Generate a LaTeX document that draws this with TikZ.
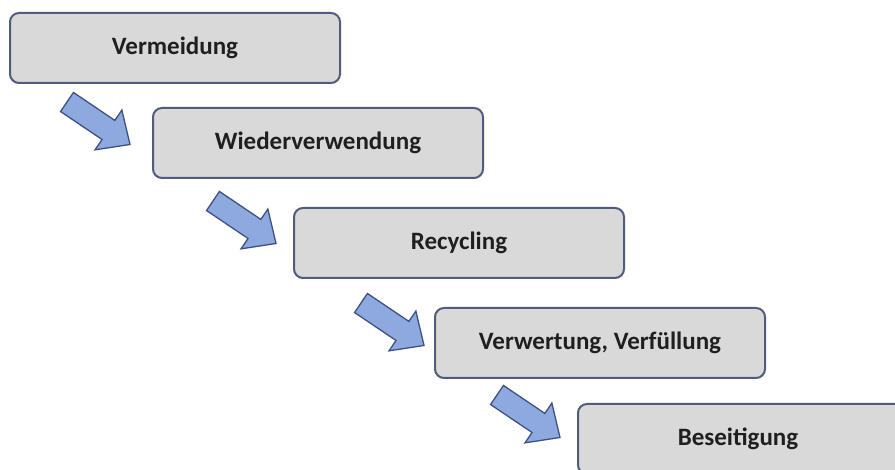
\documentclass[tikz,border=0pt]{standalone}
\usepackage{fontspec}
\setmainfont{Carlito}
\begin{document}
\begin{tikzpicture}[x=1pt,y=1pt,
  stagebox/.style={draw=boxline, line width=2pt, fill=boxfill, rounded corners=9pt,
    minimum width=330pt, minimum height=70pt, anchor=north west, inner sep=0pt,
    font=\fontsize{25}{28}\selectfont\bfseries, text=black!88},
  blockarrow/.style={draw=arrline, line width=1.3pt, fill=arrfill, line join=miter}]
\definecolor{boxline}{HTML}{4E5D7E}
\definecolor{boxfill}{HTML}{D9D9D9}
\definecolor{arrline}{HTML}{3E5185}
\definecolor{arrfill}{HTML}{8EA9DE}
\useasboundingbox (0,0) rectangle (895,470);
\clip (0,0) rectangle (895,470);
\fill[white] (0,0) rectangle (895,470);
% boxes (top-left corners, y measured upwards)
\node[stagebox] (b1) at (9,458) {Vermeidung};
\node[stagebox] (b2) at (152,363) {Wiederverwendung};
\node[stagebox] (b3) at (293,263) {Recycling};
\node[stagebox] (b4) at (434,163) {Verwertung, Verfüllung};
\node[stagebox, minimum width=340pt] (b5) at (577,67) {\hspace*{-20pt}Beseitigung};
% block arrows
\foreach \nm/\px/\py in {a1/67/102, a2/213/201, a3/361/303, a4/497/395}{
  \coordinate (\nm) at (\px,470-\py);
  \begin{scope}[shift={(\nm)}, rotate=-34]
    \draw[blockarrow] (0,-11.5) -- (50,-11.5) -- (50,-24) -- (76,0) -- (50,24) -- (50,11.5) -- (0,11.5) -- cycle;
  \end{scope}
}
\end{tikzpicture}
\end{document}
